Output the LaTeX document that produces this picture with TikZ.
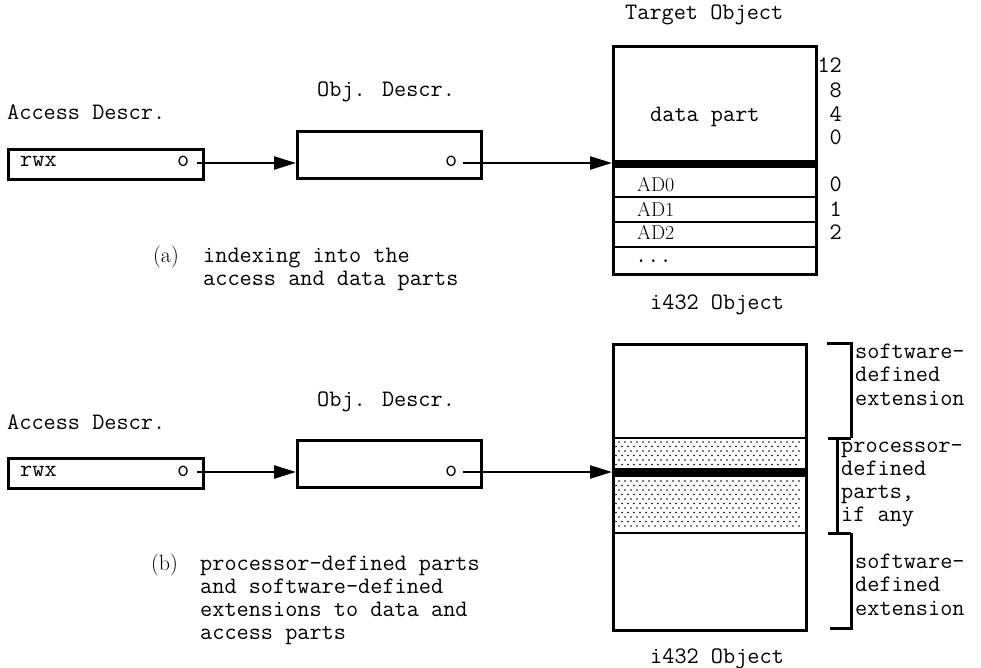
\documentclass[tikz,border=0pt]{standalone}
\usepackage{fontspec}
\usetikzlibrary{arrows.meta}
\begin{document}
\begin{tikzpicture}[x=1pt,y=-1pt,
  box/.style={draw, line width=3pt, inner sep=0pt, anchor=north west},
  tt/.style={font=\ttfamily\fontsize{23.6}{23.6}\selectfont, inner sep=0pt},
  rm/.style={font=\rmfamily\fontsize{22}{22}\selectfont, inner sep=0pt},
  adl/.style={font=\rmfamily\fontsize{20}{20}\selectfont, inner sep=0pt, anchor=base west},
  ptr/.style={line width=2.4pt, -{Triangle[length=22pt,width=13pt]}},
  rowline/.style={line width=2.4pt},
  brk/.style={line width=3pt}]
\useasboundingbox (0,0) rectangle (981,668);

% ================= part (a) =================
\node[tt, anchor=base west] (adlabA) at (7,120) {Access Descr.};
\node[box, minimum width=195pt, minimum height=30pt] (adA) at (7,148) {};
\node[tt, anchor=base west] (rwxA) at (20,167) {rwx};
\node[tt, anchor=base west] (oA1) at (177,167) {o};
\coordinate (pA1) at (197,163);

\node[tt, anchor=base west] (odlabA) at (317,97) {Obj. Descr.};
\node[box, minimum width=184pt, minimum height=47pt] (odA) at (296,130) {};
\node[tt, anchor=base west] (oA2) at (445,167) {o};
\coordinate (pA2) at (463,163);

\node[tt, anchor=base west] (tgtlab) at (625,20) {Target Object};
\node[box, line width=3.2pt, minimum width=203pt, minimum height=228pt] (tgtA) at (612,45) {};
\fill (612,160) rectangle (815,168);
\draw[rowline] (612,197) -- (815,197);
\draw[rowline] (612,222) -- (815,222);
\draw[rowline] (612,247) -- (815,247);
\draw[line width=2pt] (614,168) -- (614,247);

\node[tt, anchor=base west] (dpart) at (650,122) {data part};
\node[adl] (ad0) at (637,192) {AD0};
\node[adl] (ad1) at (637,217) {AD1};
\node[adl] (ad2) at (637,239) {AD2};
\node[tt, anchor=base west] (dots) at (635,262) {...};

\node[tt, anchor=base east] (n12) at (842,73) {12};
\node[tt, anchor=base east] (n8) at (842,98) {8};
\node[tt, anchor=base east] (n4) at (842,122) {4};
\node[tt, anchor=base east] (n0a) at (842,145) {0};
\node[tt, anchor=base east] (n0b) at (842,192) {0};
\node[tt, anchor=base east] (n1) at (842,217) {1};
\node[tt, anchor=base east] (n2) at (842,239) {2};

\node[tt, anchor=base west] (objA) at (650,309) {i432 Object};

\node[rm, anchor=base west] (capa) at (153,262) {(a)};
\node[tt, anchor=base west] (capa1) at (203,262) {indexing into the};
\node[tt, anchor=base west] (capa2) at (203,285) {access and data parts};

\draw[ptr] (pA1) -- (pA1 -| odA.west);
\draw[ptr] (pA2) -- (pA2 -| tgtA.west);

% ================= part (b) =================
\node[tt, anchor=base west] (adlabB) at (7,429) {Access Descr.};
\node[box, minimum width=195pt, minimum height=30pt] (adB) at (7,457) {};
\node[tt, anchor=base west] (rwxB) at (20,476) {rwx};
\node[tt, anchor=base west] (oB1) at (177,476) {o};
\coordinate (pB1) at (197,472);

\node[tt, anchor=base west] (odlabB) at (317,406) {Obj. Descr.};
\node[box, minimum width=184pt, minimum height=47pt] (odB) at (296,439) {};
\node[tt, anchor=base west] (oB2) at (445,476) {o};
\coordinate (pB2) at (463,472);

% dotted processor-defined region
\foreach \yy [count=\i] in {442,446.5,...,465}{
  \pgfmathsetmacro\off{mod(\i,2)*3}
  \foreach \xx in {616,622,...,798}{\fill (\xx+\off,\yy) circle (0.85pt);}
}
\foreach \yy [count=\i] in {481,485.5,...,530}{
  \pgfmathsetmacro\off{mod(\i,2)*3}
  \foreach \xx in {616,622,...,798}{\fill (\xx+\off,\yy) circle (0.85pt);}
}
\node[box, line width=3.2pt, minimum width=193pt, minimum height=286pt] (tgtB) at (612,343) {};
\draw[rowline] (612,438) -- (805,438);
\draw[rowline] (612,533) -- (805,533);
\fill (612,468) rectangle (805,477);

\node[tt, anchor=base west] (objB) at (650,663) {i432 Object};

\node[rm, anchor=base west] (capb) at (151,570) {(b)};
\node[tt, anchor=base west] (capb1) at (200,570) {processor-defined parts};
\node[tt, anchor=base west] (capb2) at (200,593) {and software-defined};
\node[tt, anchor=base west] (capb3) at (200,616) {extensions to data and};
\node[tt, anchor=base west] (capb4) at (200,639) {access parts};

% brackets
\draw[brk] (827,343) -- (851,343) -- (851,438);
\draw[brk] (828,438) -- (851,438);
\draw[brk] (837,438) -- (837,533);
\draw[brk] (828,533) -- (851,533);
\draw[brk] (851,533) -- (851,628) -- (830,628);

\node[tt, anchor=base west] (sw1a) at (855,358) {software-};
\node[tt, anchor=base west] (sw1b) at (855,381) {defined};
\node[tt, anchor=base west] (sw1c) at (855,405) {extension};
\node[tt, anchor=base west] (pd1) at (841,452) {processor-};
\node[tt, anchor=base west] (pd2) at (841,475) {defined};
\node[tt, anchor=base west] (pd3) at (841,498) {parts,};
\node[tt, anchor=base west] (pd4) at (841,521) {if any};
\node[tt, anchor=base west] (sw2a) at (855,568) {software-};
\node[tt, anchor=base west] (sw2b) at (855,591) {defined};
\node[tt, anchor=base west] (sw2c) at (855,615) {extension};

\draw[ptr] (pB1) -- (pB1 -| odB.west);
\draw[ptr] (pB2) -- (pB2 -| tgtB.west);
\end{tikzpicture}
\end{document}
